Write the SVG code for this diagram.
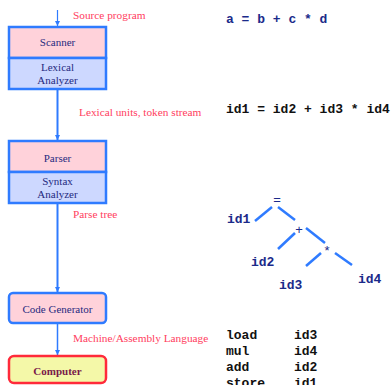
<svg xmlns="http://www.w3.org/2000/svg" width="392" height="385" viewBox="0 0 392 385">
<style>
.box{stroke:#2f7bff;stroke-width:2.5}
.pink{fill:#ffd2da}
.blue{fill:#cdd8ff}
.bt{font-family:"Liberation Serif",serif;font-size:11px;fill:#1f2a80;text-anchor:middle}
.lab{font-family:"Liberation Serif",serif;font-size:11.3px;fill:#ff4060}
.code{font-family:"Liberation Mono",monospace;font-size:13px;font-weight:bold;fill:#111}
.tree{font-family:"Liberation Mono",monospace;font-size:13px;font-weight:bold;fill:#1a2a8a}
.op{font-family:"Liberation Sans",sans-serif;font-size:13px;fill:#1a2a8a;text-anchor:middle}
.edge{stroke:#2f7bff;stroke-width:2;fill:none}
.tl{stroke:#2f7bff;stroke-width:2.5;fill:none}
</style>
<defs>
<marker id="ah" markerWidth="6" markerHeight="6" refX="5" refY="3" orient="auto" markerUnits="userSpaceOnUse">
<path d="M0,0.5 L5,3 L0,5.5 Z" fill="#2f7bff"/>
</marker>
</defs>
<g id="connectors">
<line class="edge" x1="57.5" y1="10" x2="57.5" y2="26" marker-end="url(#ah)" style="stroke-width:1.2"/>
<line class="edge" x1="57.5" y1="89" x2="57.5" y2="140" marker-end="url(#ah)"/>
<line class="edge" x1="57.5" y1="203" x2="57.5" y2="292" marker-end="url(#ah)"/>
<line class="edge" x1="57.5" y1="323" x2="57.5" y2="355" marker-end="url(#ah)" style="stroke-width:1.5"/>
</g>
<g id="scanner">
<rect class="box pink" x="9" y="27" width="97" height="31"/>
<rect class="box blue" x="9" y="58" width="97" height="31"/>
<text class="bt" x="57.5" y="46">Scanner</text>
<text class="bt" x="57.5" y="71">Lexical</text>
<text class="bt" x="57.5" y="84">Analyzer</text>
</g>
<g id="parser">
<rect class="box pink" x="9" y="141" width="97" height="31"/>
<rect class="box blue" x="9" y="172" width="97" height="31"/>
<text class="bt" x="57.5" y="162">Parser</text>
<text class="bt" x="57.5" y="185">Syntax</text>
<text class="bt" x="57.5" y="198">Analyzer</text>
</g>
<g id="codegen">
<rect class="box pink" x="9" y="293" width="97" height="30" rx="4"/>
<text class="bt" x="57.5" y="313">Code Generator</text>
</g>
<g id="computer">
<rect x="9" y="356" width="97" height="27" rx="5" fill="#f4f8a8" stroke="#ff2a3a" stroke-width="2.5"/>
<text x="57.5" y="375" text-anchor="middle" font-family="Liberation Serif,serif" font-size="11" font-weight="bold" fill="#7a1a4a">Computer</text>
</g>
<g id="labels">
<text class="lab" x="73" y="19">Source program</text>
<text class="lab" x="79" y="116">Lexical units, token stream</text>
<text class="lab" x="73" y="218">Parse tree</text>
<text class="lab" x="73" y="342">Machine/Assembly Language</text>
</g>
<g id="source">
<text class="tree" x="226" y="23">a = b + c * d</text>
<text class="code" x="226" y="113">id1 = id2 + id3 * id4</text>
</g>
<g id="tree">
<line class="tl" x1="255" y1="221" x2="272" y2="207"/>
<line class="tl" x1="278" y1="207" x2="295" y2="220"/>
<line class="tl" x1="278" y1="249" x2="295" y2="233"/>
<line class="tl" x1="306" y1="228" x2="325" y2="243"/>
<line class="tl" x1="306" y1="266" x2="321" y2="253"/>
<line class="tl" x1="335" y1="253" x2="352" y2="265"/>
<text class="op" x="277" y="204">=</text>
<text class="op" x="299" y="234">+</text>
<text class="op" x="327" y="255">*</text>
<text class="tree" x="227" y="223">id1</text>
<text class="tree" x="251" y="266">id2</text>
<text class="tree" x="279" y="289">id3</text>
<text class="tree" x="358" y="283">id4</text>
</g>
<g id="asm">
<text class="code" x="226" y="339">load</text><text class="code" x="294" y="339">id3</text>
<text class="code" x="226" y="355">mul</text><text class="code" x="294" y="355">id4</text>
<text class="code" x="226" y="371">add</text><text class="code" x="294" y="371">id2</text>
<text class="code" x="226" y="387">store</text><text class="code" x="294" y="387">id1</text>
</g>
</svg>
